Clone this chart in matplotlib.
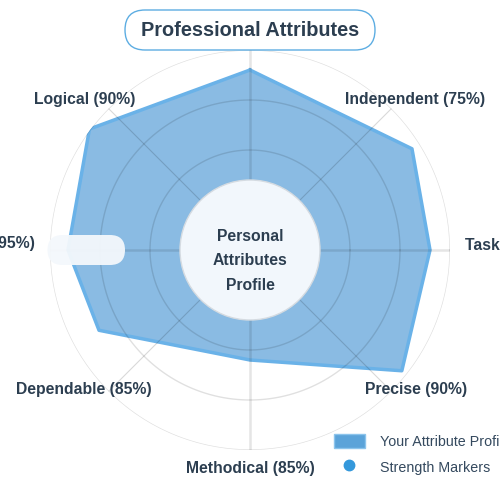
import matplotlib
matplotlib.use('Agg')

import numpy as np
import matplotlib.pyplot as plt
from matplotlib.patches import Patch, FancyBboxPatch, Circle
from matplotlib.lines import Line2D

plt.rcParams['font.family'] = ['Liberation Sans', 'DejaVu Sans']

# polygon vertices as drawn (angle in degrees, value in %)
shape_angles = [90, 32, 0, -38.5, -90, -152, 180, 143]
shape_values = [90, 95.5, 90, 97, 55, 85.5, 91, 100.5]

axis_labels = ['Independent (75%)', 'Task Oriented (90%)', 'Precise (90%)',
               'Methodical (85%)', 'Dependable (85%)', 'Adaptable (95%)',
               'Logical (90%)']
label_angles = [42.3, 1.3, -40.1, -90, 220.1, 178.4, 137.7]
label_radius = [111.5, 107.5, 108.5, 109.5, 108.5, 107.5, 111.5]
label_ha = ['center', 'left', 'center', 'center', 'center', 'right', 'center']

rings = [25, 50, 75, 100]
spokes = [0, 45, 90, 135, 180, 225, 270, 315]

dark = '#2c3e50'

fig = plt.figure(figsize=(5, 5), dpi=100)
ax = fig.add_axes([0.1, 0.1, 0.8, 0.8], projection='polar')
ax.set_ylim(0, 100)
ax.grid(False)
ax.spines['polar'].set_visible(False)
ax.set_xticks([])
ax.set_yticks([])
ax.patch.set_alpha(0)

th = np.deg2rad(shape_angles + shape_angles[:1])
rv = shape_values + shape_values[:1]
ax.fill(th, rv, color='#3c8fd1', alpha=0.6, lw=0, zorder=2)
ax.plot(th, rv, color='#6ab2e8', lw=2.5, zorder=3)

t = np.linspace(0, 2 * np.pi, 400)
for r in rings:
    ax.plot(t, np.full_like(t, r), color='black', alpha=0.12, lw=1, zorder=4)
for s in spokes:
    if s % 90 == 0:
        ax.plot([np.deg2rad(s)] * 2, [0, 100], color='black', alpha=0.1, lw=1.8, zorder=4)
    else:
        ax.plot([np.deg2rad(s)] * 2, [0, 100], color='black', alpha=0.15, lw=0.8, zorder=4)

# centre disc
disc = Circle((0.5, 0.5), 0.175, transform=ax.transAxes, facecolor='#f2f7fc',
              edgecolor='#d5dbe1', lw=1, zorder=5)
ax.add_artist(disc)
ax.text(0.5, 0.473, 'Personal\nAttributes\nProfile', transform=ax.transAxes,
        ha='center', va='center', fontsize=11.3, fontweight='bold', color=dark,
        linespacing=1.8, zorder=6)

for lab, a, r, ha in zip(axis_labels, label_angles, label_radius, label_ha):
    ax.text(np.deg2rad(a), r, lab, ha=ha, va='center', fontsize=11.3,
            fontweight='bold', color=dark, clip_on=False, zorder=7)

# white pill on the left
pill = FancyBboxPatch((0.095, 0.47), 0.155, 0.06, transform=fig.transFigure,
                      boxstyle='round,pad=0,rounding_size=0.03',
                      facecolor='#f4f8fc', edgecolor='none', alpha=0.95, zorder=8)
fig.patches.append(pill)

# title
title_box = FancyBboxPatch((0.25, 0.90), 0.5, 0.08, transform=fig.transFigure,
                           boxstyle='round,pad=0,rounding_size=0.04',
                           facecolor='white', edgecolor='#5dade2', lw=1)
fig.patches.append(title_box)
fig.text(0.5, 0.94, 'Professional Attributes', ha='center', va='center',
         fontsize=14.3, fontweight='bold', color=dark)

handles = [Patch(facecolor='#5ba3d9', edgecolor='#8cc4ec', lw=1),
           Line2D([], [], ls='none', marker='o', ms=7.5, color='#3498db')]
fig.legend(handles, ['Your Attribute Profile', 'Strength Markers'],
           loc='upper left', bbox_to_anchor=(0.667, 0.133), frameon=False,
           fontsize=10.3, handlelength=2.2, handleheight=1.2,
           handletextpad=1.05, labelspacing=0.75, labelcolor='#34495e',
           borderpad=0, borderaxespad=0)

fig.savefig('out.png', dpi=100, facecolor='white')
